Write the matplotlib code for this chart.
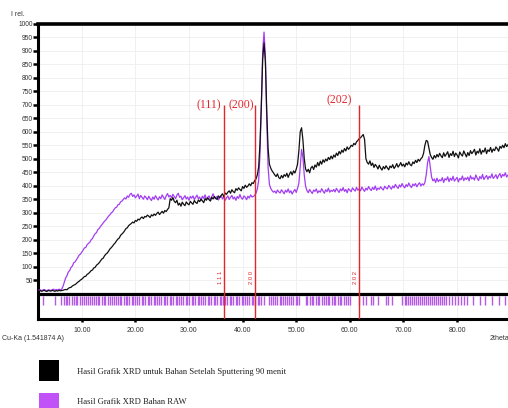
import numpy as np
import matplotlib
matplotlib.use('Agg')
import matplotlib.pyplot as plt
from matplotlib.patches import Rectangle

# 2theta grid starts at 2.00 deg, one sample every 0.25 deg
X_START = 2.0
X_STEP = 0.25

# XRD bahan RAW (purple)
raw_counts = [
    12, 14, 11, 13, 15, 12, 10, 14, 13, 11, 14, 16, 12, 15, 13, 16, 14, 16, 26, 42,
    58, 66, 80, 85, 97, 102, 114, 117, 125, 133, 142, 146, 153, 161, 169, 171, 181, 186, 190, 199,
    204, 214, 222, 226, 237, 241, 249, 255, 262, 268, 273, 280, 287, 292, 299, 303, 311, 318, 320, 329,
    331, 340, 343, 349, 355, 351, 362, 357, 368, 372, 360, 366, 355, 361, 369, 352, 364, 357, 350, 362,
    356, 348, 361, 352, 345, 358, 350, 363, 354, 347, 359, 352, 366, 357, 349, 362, 371, 358, 364, 355,
    368, 360, 352, 365, 372, 357, 361, 348, 355, 363, 351, 358, 346, 360, 354, 362, 349, 357, 365, 352,
    358, 345, 361, 353, 366, 350, 357, 362, 348, 359, 370, 355, 352, 361, 347, 356, 363, 351, 358, 346,
    355, 362, 349, 357, 364, 351, 358, 346, 360, 353, 367, 355, 350, 362, 357, 348, 361, 354, 366, 358,
    360, 364, 372, 388, 420, 520, 700, 900, 970, 880, 650, 470, 405, 390, 382, 376, 380, 372, 384, 377,
    373, 385, 378, 370, 383, 376, 388, 374, 381, 369, 379, 386, 375, 390, 410, 470, 535, 505, 440, 398,
    382, 374, 386, 378, 371, 384, 379, 388, 373, 381, 376, 389, 380, 372, 385, 378, 391, 376, 383, 379,
    386, 377, 390, 382, 375, 388, 381, 393, 379, 386, 374, 389, 383, 378, 392, 385, 380, 394, 383, 388,
    381, 395, 386, 379, 391, 384, 397, 388, 382, 394, 386, 399, 383, 391, 387, 396, 389, 384, 398, 392,
    388, 401, 394, 387, 399, 392, 405, 396, 390, 403, 395, 408, 398, 392, 404, 397, 410, 399, 393, 406,
    400, 408, 396, 405, 411, 399, 407, 402, 412, 440, 485, 508, 470, 432, 418, 425, 412, 428, 415, 422,
    418, 430, 412, 426, 421, 433, 415, 428, 420, 435, 417, 424, 431, 414, 427, 422, 436, 419, 429, 423,
    432, 418, 437, 425, 430, 421, 440, 428, 419, 434, 426, 442, 423, 431, 438, 424, 435, 429, 444, 427,
    433, 441, 426, 438, 445, 430, 442, 436, 448, 432, 440, 446,
]

# XRD setelah sputtering 90 menit (black)
sputter_counts = [
    9, 11, 8, 10, 12, 9, 8, 11, 10, 9, 12, 10, 8, 11, 9, 12, 10, 11, 12, 14,
    15, 14, 19, 22, 23, 28, 31, 33, 37, 42, 45, 50, 53, 58, 63, 64, 71, 74, 79, 85,
    87, 95, 97, 105, 109, 114, 121, 128, 131, 140, 146, 150, 157, 165, 170, 176, 183, 188, 196, 202,
    206, 216, 221, 226, 233, 241, 244, 252, 256, 260, 265, 262, 271, 268, 276, 273, 280, 284, 278, 286,
    284, 291, 287, 282, 292, 288, 295, 290, 297, 302, 293, 299, 305, 298, 308, 304, 312, 318, 352, 346,
    356, 342, 337, 346, 328, 335, 324, 339, 331, 326, 340, 333, 329, 342, 336, 331, 345, 338, 334, 347,
    341, 350, 344, 337, 352, 346, 355, 348, 343, 357, 351, 360, 353, 349, 362, 356, 364, 370, 359, 373,
    368, 376, 381, 372, 385, 378, 374, 389, 383, 392, 386, 381, 397, 390, 402, 394, 399, 407, 400, 411,
    408, 419, 425, 440, 470, 560, 700, 870, 930, 860, 680, 540, 480, 465, 455, 448, 440, 434, 444, 430,
    426, 438, 429, 441, 435, 446, 431, 443, 452, 440, 455, 447, 461, 480, 530, 600, 615, 570, 500, 462,
    452, 461, 448, 466, 472, 460, 477, 469, 486, 474, 491, 480, 496, 487, 499, 492, 505, 497, 510, 500,
    514, 506, 521, 512, 527, 518, 532, 524, 538, 529, 544, 535, 541, 550, 546, 557, 552, 563, 568, 575,
    578, 584, 590, 572, 500, 486, 480, 492, 475, 484, 468, 479, 472, 462, 476, 465, 458, 471, 463, 474,
    466, 459, 473, 467, 478, 464, 471, 482, 469, 476, 486, 473, 480, 470, 484, 477, 489, 478, 474, 488,
    482, 494, 486, 498, 491, 500, 505, 520, 550, 568, 565, 540, 515, 505, 498, 512, 503, 516, 507, 520,
    511, 504, 522, 509, 517, 526, 505, 519, 512, 528, 508, 521, 514, 503, 525, 516, 510, 529, 518, 507,
    523, 512, 530, 519, 526, 535, 514, 528, 521, 537, 517, 531, 525, 540, 519, 533, 527, 542, 524, 536,
    530, 544, 537, 528, 546, 539, 550, 541, 556, 545, 552, 560,
]

# reference pattern lines (strip below the zero line)
ref_lines = [
    2.7, 5.0,
    6.1, 6.6, 7.0, 7.3, 7.7, 8.2, 8.5, 8.9, 9.2, 9.6, 10.1, 10.4, 10.8, 11.1, 11.5, 11.9,
    12.2, 12.6, 13.0, 13.3, 13.8, 14.1, 14.4, 14.9, 15.2, 15.6, 16.0, 16.3, 16.7, 17.1,
    17.4, 17.9, 18.2, 18.5, 18.9, 19.3, 19.6, 20.0, 20.4, 20.7, 21.2, 21.5, 21.8, 22.3,
    22.6, 23.0, 23.4, 23.7, 24.1, 24.5, 24.8, 25.3, 25.6, 25.9, 26.4, 26.7, 27.1, 27.5,
    27.8, 28.2, 28.6, 28.9, 29.4, 29.7, 30.0, 30.5, 30.8, 31.2, 31.6, 31.9, 32.3, 32.7,
    33.0, 33.5, 33.8, 34.1, 34.6, 34.9, 35.3, 35.7, 36.0, 36.4, 36.8, 37.1, 37.6, 37.9,
    38.2, 38.7, 39.0, 39.4, 39.8, 40.1, 40.5, 40.9, 41.2, 41.7, 42.0, 42.3, 42.8, 43.1,
    43.5, 43.9, 45.0, 45.3, 45.7, 46.1, 46.4, 46.9, 47.2, 47.6, 48.0, 48.3, 48.7, 49.1,
    49.4, 49.9, 50.2, 50.6, 51.8, 52.1, 52.5, 52.9, 53.2, 53.7, 54.0, 54.3, 54.8, 55.1,
    55.5, 55.9, 56.2, 56.6, 57.0, 57.3, 57.8, 58.1, 58.4, 58.9, 59.2, 59.6, 60.0, 61.8,
    62.5, 63.1, 63.9, 64.4, 65.3, 66.7, 67.2, 67.8, 69.8, 70.2, 70.5, 70.9, 71.3, 71.6,
    72.0, 72.4, 72.7, 73.1, 73.5, 73.8, 74.2, 74.6, 74.9, 75.3, 75.7, 76.0, 76.4, 76.8,
    77.1, 77.6, 78.0, 78.5, 79.1, 79.6, 80.2, 80.7, 81.3, 81.8, 83.0, 84.2, 85.3, 86.5,
    87.8, 89.0,
]

# indexed planes
hkl_labels = ['(111)', '(200)', '(202)']
hkl_small = ['1 1 1', '2 0 0', '2 0 2']
hkl_pos = [36.6, 42.4, 61.8]

x_ticks = [10, 20, 30, 40, 50, 60, 70, 80]
y_ticks = list(range(50, 1001, 50))

legend_texts = ['Hasil Grafik XRD untuk Bahan Setelah Sputtering 90 menit',
                'Hasil Grafik XRD Bahan RAW']

SANS = 'Liberation Sans'
SERIF = 'Liberation Serif'
RED = '#e3262b'
PURPLE = '#a23ef2'

fig = plt.figure(figsize=(5.08, 4.08), dpi=100)
ax = fig.add_axes([0.0754, 0.2181, 0.9246, 0.7231])

raw_x = X_START + X_STEP * np.arange(len(raw_counts))
sp_x = X_START + X_STEP * np.arange(len(sputter_counts))

ax.grid(True, color='#eeeeee', lw=0.6, zorder=0)
ax.vlines(ref_lines, -42, -8, color='#b35ae6', lw=1.0, zorder=2)
ax.plot(raw_x, raw_counts, color=PURPLE, lw=0.9, zorder=3)
ax.plot(sp_x, sputter_counts, color='#111111', lw=0.9, zorder=4)
ax.axhline(0, color='black', lw=2.3, zorder=5)

ymin = -94.6
for lab, small, pos in zip(hkl_labels, hkl_small, hkl_pos):
    ax.vlines(pos, ymin, 700, color=RED, lw=1.0, zorder=6)
    ax.text(pos - 0.8, 35, small, rotation=90, ha='center', va='bottom',
            color=RED, fontsize=4.2, family=SANS, zorder=6)
ax.text(36.0, 697, hkl_labels[0], ha='right', va='center', color=RED,
        fontsize=8.5, family=SERIF)
ax.text(42.15, 697, hkl_labels[1], ha='right', va='center', color=RED,
        fontsize=8.5, family=SERIF)
ax.text(60.3, 718, hkl_labels[2], ha='right', va='center', color=RED,
        fontsize=8.5, family=SERIF)

ax.set_xlim(1.9, 89.5)
ax.set_ylim(ymin, 1000)
ax.set_xticks(x_ticks)
ax.set_xticklabels(['%.2f' % v for v in x_ticks], fontsize=5, family=SANS, color='#333333')
ax.set_yticks(y_ticks)
ax.set_yticklabels([str(v) for v in y_ticks], fontsize=4.8, family=SANS, color='#333333')
ax.tick_params(axis='y', length=3.5, width=1.8, pad=0.5)
ax.tick_params(axis='x', length=2.5, width=1.8, pad=3.5)

ax.spines['right'].set_visible(False)
ax.spines['top'].set_linewidth(2.6)
ax.spines['left'].set_linewidth(2.2)
ax.spines['bottom'].set_linewidth(2.2)

fig.text(0.022, 1 - 15 / 408, 'I rel.', fontsize=5, family=SANS, color='#333333', va='center')
fig.text(0.004, 1 - 339 / 408, 'Cu-Ka (1.541874 A)', fontsize=5, family=SANS,
         color='#333333', va='center')
fig.text(0.963, 1 - 339 / 408, '2theta', fontsize=5, family=SANS, color='#333333', va='center')

# legend boxes
fig.add_artist(Rectangle((0.0768, 0.0662), 0.0394, 0.0515, transform=fig.transFigure,
                         facecolor='black', edgecolor='none'))
fig.add_artist(Rectangle((0.0768, -0.0147), 0.0394, 0.0515, transform=fig.transFigure,
                         facecolor='#c052f7', edgecolor='none'))
fig.text(0.1516, 0.089, legend_texts[0], fontsize=6.2, family=SERIF, va='center', color='#222222')
fig.text(0.1516, 0.0154, legend_texts[1], fontsize=6.2, family=SERIF, va='center', color='#222222')

fig.savefig('out.png', dpi=100)
